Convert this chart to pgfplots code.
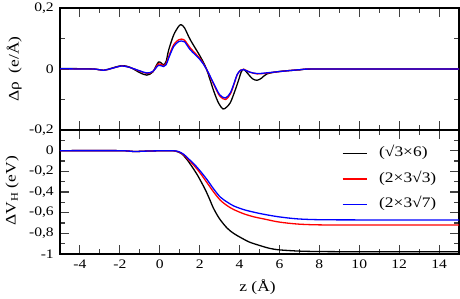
\documentclass[border=0pt]{standalone}
\usepackage{fontspec}
\setmainfont{Liberation Serif}[FakeStretch=1.2]
\usepackage{pgfplots}
\pgfplotsset{compat=1.18}
\newcommand{\fs}{\fontsize{13}{15}\selectfont}
\newcommand{\fl}{\fontsize{14.5}{16}\selectfont}
\pgfplotsset{
  common/.style={
    scale only axis, width=399pt,
    xmin=-5, xmax=15,
    axis line style={line width=1.2pt},
    tick style={line width=1.1pt, black!75},
    major tick length=9pt, minor tick length=5pt,
    tick align=inside,
    xtick={-4,-2,...,14}, minor x tick num=1,
    minor y tick num=1,
    tick label style={font=\fs},
    yticklabel style={inner sep=0pt, xshift=-6pt},
    xticklabel style={inner sep=0pt, yshift=-6pt},
    every axis plot/.append style={line width=1.3pt, smooth},
  }
}
\begin{document}
\begin{tikzpicture}
\useasboundingbox (-60pt,8pt) rectangle (400pt,-290pt);
% top panel
\begin{axis}[common, at={(0,0)}, anchor=north west, height=122pt,
  ymin=-0.2, ymax=0.2,
  ytick={-0.2,0,0.2}, yticklabels={{-0,2},{0},{0,2}},
  xticklabels={},
  every axis y label/.style={at={(axis description cs:-0.115,0.5)}, anchor=center, rotate=90, font=\fl},
  ylabel={Δρ\ \ (e/Å)},
]
\addplot[black] coordinates {
(-5,0.002) (-4,0.001) (-3.3,0.0) (-2.8,-0.004) (-2.4,0.003) (-1.9,0.011) (-1.5,0.006)
(-1.0,-0.012) (-0.65,-0.02) (-0.35,-0.01) (-0.06,0.023) (0.19,0.014) (0.32,0.025)
(0.45,0.063) (0.7,0.112) (0.95,0.14) (1.08,0.145) (1.25,0.134) (1.53,0.096) (2.03,0.041)
(2.34,0.0) (2.71,-0.073) (2.95,-0.112) (3.17,-0.131) (3.35,-0.125) (3.54,-0.11)
(3.75,-0.075) (3.96,-0.035) (4.08,-0.01) (4.21,-0.001) (4.4,-0.014) (4.65,-0.032)
(4.88,-0.037) (5.1,-0.03) (5.38,-0.016) (6.0,-0.008) (7.0,-0.003) (8.0,0.0) (15,0.0)};
\addplot[red] coordinates {
(-5,0.001) (-4,0.0) (-3.3,0.0) (-2.8,-0.004) (-2.4,0.002) (-1.9,0.01) (-1.5,0.005)
(-1.0,-0.007) (-0.65,-0.014) (-0.35,-0.009) (-0.06,0.017) (0.19,0.011) (0.32,0.018)
(0.45,0.041) (0.7,0.08) (0.95,0.096) (1.08,0.098) (1.25,0.094) (1.53,0.069) (2.03,0.033)
(2.34,0.0) (2.71,-0.051) (3.0,-0.088) (3.29,-0.1) (3.54,-0.082) (3.75,-0.045)
(3.88,-0.019) (4.05,-0.004) (4.21,-0.001) (4.5,-0.01) (4.88,-0.016) (5.3,-0.014)
(6.06,-0.008) (7.06,-0.002) (8.0,0.0) (15,0.0)};
\addplot[blue] coordinates {
(-5,0.001) (-4,0.0) (-3.3,0.0) (-2.8,-0.004) (-2.4,0.002) (-1.9,0.01) (-1.5,0.005)
(-1.0,-0.006) (-0.65,-0.013) (-0.35,-0.008) (-0.06,0.012) (0.19,0.008) (0.32,0.014)
(0.45,0.036) (0.7,0.074) (0.95,0.09) (1.08,0.092) (1.25,0.089) (1.53,0.063) (2.03,0.03)
(2.34,0.0) (2.71,-0.048) (3.0,-0.084) (3.29,-0.095) (3.54,-0.078) (3.75,-0.042)
(3.88,-0.018) (4.05,-0.004) (4.21,-0.002) (4.5,-0.01) (4.88,-0.015) (5.3,-0.013)
(6.06,-0.008) (7.06,-0.002) (8.0,0.0) (15,0.0)};
\end{axis}
% bottom panel
\begin{axis}[common, at={(0,-122pt)}, anchor=north west, height=124pt,
  ymin=-1, ymax=0.2,
  ytick={-1,-0.8,-0.6,-0.4,-0.2,0},
  yticklabels={{-1},{-0,8},{-0,6},{-0,4},{-0,2},{0}},
  minor ytick={-0.9,-0.7,-0.5,-0.3,-0.1,0.1},
  xticklabels={{-4},{-2},{0},{2},{4},{6},{8},{10},{12},{14}},
  every axis y label/.style={at={(axis description cs:-0.12,0.51)}, anchor=center, rotate=90, font=\fl},
  ylabel={ΔV\textsubscript{H} (eV)},
  every axis x label/.style={at={(axis description cs:0.495,0)}, anchor=north, yshift=-22pt, font=\fl},
  xlabel={z (Å)},
  legend style={draw=none, fill=none, at={(0.706,0.875)}, anchor=north west,
    inner sep=0pt, row sep=10pt, column sep=12pt, font=\fl,
    nodes={inner xsep=0pt, inner ysep=1pt, text height=10pt, text depth=3.5pt}},
  legend cell align=left,
  legend image code/.code={\draw[#1, line width=1.3pt] (0pt,0pt) -- (24pt,0pt);},
]
\addplot[black] coordinates {
(-5,0) (-2,0) (-1.3,-0.008) (-0.5,-0.003) (0.5,0) (0.8,-0.005) (1.1,-0.03) (1.37,-0.087)
(1.6,-0.15) (1.87,-0.23) (2.1,-0.31) (2.29,-0.38) (2.5,-0.47) (2.7,-0.56) (3.0,-0.66)
(3.38,-0.75) (3.7,-0.8) (4.05,-0.84) (4.5,-0.885) (5.05,-0.92) (5.5,-0.945) (6.0,-0.96)
(7.0,-0.972) (8.0,-0.976) (10,-0.978) (15,-0.978)};
\addlegendentry{(√3×6)}
\addplot[red] coordinates {
(-5,0) (-2,0) (-1.3,-0.008) (-0.5,-0.003) (0.5,0) (0.9,-0.008) (1.2,-0.04) (1.45,-0.09)
(1.7,-0.14) (2.0,-0.21) (2.37,-0.31) (2.7,-0.4) (3.04,-0.48) (3.4,-0.535) (3.71,-0.57)
(4.2,-0.61) (4.71,-0.64) (5.2,-0.66) (5.96,-0.69) (6.9,-0.71) (8,-0.718) (10,-0.72) (15,-0.72)};
\addlegendentry{(2×3√3)}
\addplot[blue] coordinates {
(-5,0) (-2,0) (-1.3,-0.008) (-0.5,-0.003) (0.5,0) (0.9,-0.006) (1.2,-0.035) (1.45,-0.08)
(1.7,-0.125) (2.0,-0.19) (2.37,-0.28) (2.7,-0.37) (3.04,-0.45) (3.4,-0.5) (3.71,-0.535)
(4.2,-0.57) (4.71,-0.595) (5.2,-0.615) (5.96,-0.64) (6.9,-0.66) (8,-0.668) (10,-0.67) (15,-0.67)};
\addlegendentry{(2×3√7)}
\end{axis}
\end{tikzpicture}
\end{document}
